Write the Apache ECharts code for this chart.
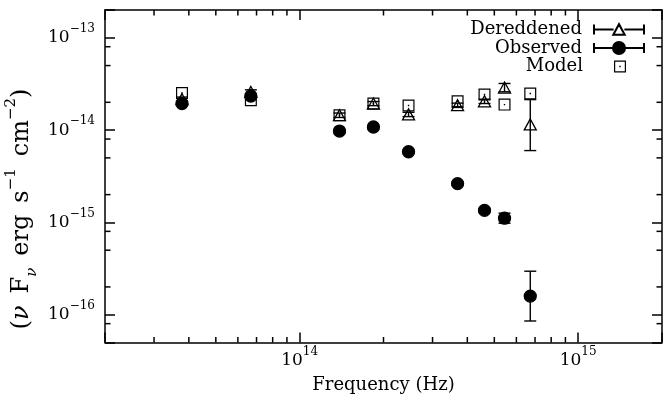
<!DOCTYPE html>
<html><head><meta charset="utf-8">
<script src="https://cdn.jsdelivr.net/npm/echarts@6/dist/echarts.min.js"></script>
<style>html,body{margin:0;padding:0;background:#fff}#c{width:665px;height:403px}</style>
</head><body><div id="c"></div>
<script>
// ---- data ----
const frequency = [3.78e13, 6.68e13, 1.39e14, 1.84e14, 2.46e14, 3.69e14, 4.61e14, 5.44e14, 6.73e14];
const dereddened   = [2.16e-14, 2.59e-14, 1.45e-14, 1.94e-14, 1.48e-14, 1.86e-14, 2.05e-14, 2.89e-14, 1.15e-14];
const dereddenedLo = [2.05e-14, 2.45e-14, 1.37e-14, 1.84e-14, 1.40e-14, 1.76e-14, 1.94e-14, 2.60e-14, 6.0e-15];
const dereddenedHi = [2.28e-14, 2.73e-14, 1.53e-14, 2.04e-14, 1.56e-14, 1.96e-14, 2.16e-14, 3.20e-14, 2.14e-14];
const observed   = [1.94e-14, 2.34e-14, 9.76e-15, 1.08e-14, 5.83e-15, 2.63e-15, 1.35e-15, 1.11e-15, 1.59e-16];
const observedLo = [1.86e-14, 2.24e-14, 9.3e-15, 1.03e-14, 5.55e-15, 2.5e-15, 1.28e-15, 0.98e-15, 8.55e-17];
const observedHi = [2.02e-14, 2.44e-14, 1.02e-14, 1.13e-14, 6.1e-15, 2.76e-15, 1.42e-15, 1.26e-15, 2.96e-16];
const model = [2.52e-14, 2.11e-14, 1.45e-14, 1.94e-14, 1.85e-14, 2.05e-14, 2.43e-14, 1.89e-14, 2.49e-14];
const seriesNames = ['Dereddened', 'Observed', 'Model'];
const xRange = [2e13, 2e15];
const yRange = [5e-17, 2e-13];
const xMinorTicks = [3e13, 4e13, 5e13, 6e13, 7e13, 8e13, 9e13, 2e14, 3e14, 4e14, 5e14, 6e14, 7e14, 8e14, 9e14];
const yMinorTicks = [8e-17, 2e-16, 5e-16, 8e-16, 2e-15, 5e-15, 8e-15, 2e-14, 5e-14, 8e-14];
const xAxisTitle = 'Frequency (Hz)';

// ---- styling ----
const FONT = 'DejaVu Serif';
const MINUS = '\u2212';
const SP = '\u2002';
function powLabel(v) {
  const l = Math.log10(v), e = Math.round(l);
  if (Math.abs(l - e) > 0.01) return '';
  return '{b|10}{s|' + String(e).replace('-', MINUS) + '}';
}
const labelRich = {
  b: { fontFamily: FONT, fontSize: 17, lineHeight: 30, color: '#000' },
  s: { fontFamily: FONT, fontSize: 12, lineHeight: 18, verticalAlign: 'top', color: '#000' }
};
const lineStyle = { color: '#000', width: 1.5 };
function axisBase(extra) {
  return Object.assign({
    type: 'log', logBase: 10,
    axisLine: { show: true, lineStyle },
    axisTick: { show: true, inside: true, length: 10, lineStyle },
    splitLine: { show: false }, minorTick: { show: false }, minorSplitLine: { show: false }
  }, extra);
}

const squareDot = 'path://M0,0H12V12H0Z M1.2,1.2V10.8H10.8V1.2Z M5.3,5.3H6.7V6.7H5.3Z';
const iconDered = 'path://M0,1V11 M0,6H19.6 M30.4,6H50 M50,1V11 M19.3,11.3L25,0.7L30.7,11.3Z';
const iconObs = 'path://M0,1V11 M0,6H50 M50,1V11 M19,6A6,6 0 1,1 31,6A6,6 0 1,1 19,6Z';
const iconModel = 'path://M0,6H0.01 M49.99,6H50 M19,0H31V12H19Z M20.2,1.2V10.8H29.8V1.2Z M24.3,5.3H25.7V6.7H24.3Z';

function minorTicksSeries(values, dir) {
  return {
    type: 'custom', silent: true, clip: false, z: 5,
    data: values.map(v => dir === 'x' ? [v, 1e-15] : [1e14, v]),
    renderItem(params, api) {
      const cs = params.coordSys;
      const p = api.coord([api.value(0), api.value(1)]);
      const st = { stroke: '#000', lineWidth: 1.5 };
      const L = 5.5;
      if (dir === 'x') {
        const b = cs.y + cs.height, t = cs.y;
        return { type: 'group', children: [
          { type: 'line', shape: { x1: p[0], y1: b, x2: p[0], y2: b - L }, style: st },
          { type: 'line', shape: { x1: p[0], y1: t, x2: p[0], y2: t + L }, style: st }
        ] };
      }
      const l = cs.x, r = cs.x + cs.width;
      return { type: 'group', children: [
        { type: 'line', shape: { x1: l, y1: p[1], x2: l + L, y2: p[1] }, style: st },
        { type: 'line', shape: { x1: r, y1: p[1], x2: r - L, y2: p[1] }, style: st }
      ] };
    }
  };
}
function errorBars(lo, hi, z) {
  return {
    type: 'custom', silent: true, z,
    data: frequency.map((f, i) => [f, lo[i], hi[i]]),
    encode: { x: 0, y: [1, 2] },
    renderItem(params, api) {
      const x = api.value(0);
      const a = api.coord([x, api.value(1)]);
      const b = api.coord([x, api.value(2)]);
      const w = 6, st = { stroke: '#000', lineWidth: 1.4 };
      return { type: 'group', children: [
        { type: 'line', shape: { x1: a[0], y1: a[1], x2: b[0], y2: b[1] }, style: st },
        { type: 'line', shape: { x1: a[0] - w, y1: a[1], x2: a[0] + w, y2: a[1] }, style: st },
        { type: 'line', shape: { x1: b[0] - w, y1: b[1], x2: b[0] + w, y2: b[1] }, style: st }
      ] };
    }
  };
}
function legendFor(name, icon, top) {
  return {
    data: [{ name, icon }], right: 20, top, padding: 0, orient: 'vertical', align: 'right',
    itemWidth: 50, itemHeight: 12, selectedMode: false,
    itemStyle: { opacity: 1 },
    textStyle: { fontFamily: FONT, fontSize: 18, color: '#000', padding: [0, 7, 0, 0] }
  };
}

const chart = echarts.init(document.getElementById('c'), null, { renderer: 'canvas' });
chart.setOption({
  animation: false,
  backgroundColor: '#fff',
  grid: { left: 105, top: 10, right: 1, bottom: 60.5, containLabel: false },
  xAxis: [
    axisBase({ position: 'bottom', min: xRange[0], max: xRange[1],
      axisLabel: { formatter: powLabel, rich: labelRich, margin: 3 },
      name: xAxisTitle, nameLocation: 'middle', nameGap: 34,
      nameTextStyle: { fontFamily: FONT, fontSize: 18, color: '#000' } }),
    axisBase({ position: 'top', min: xRange[0], max: xRange[1], axisLabel: { show: false } })
  ],
  yAxis: [
    axisBase({ position: 'left', min: yRange[0], max: yRange[1],
      axisLabel: { formatter: powLabel, rich: labelRich, margin: 10 } }),
    axisBase({ position: 'right', min: yRange[0], max: yRange[1], axisLabel: { show: false } })
  ],
  legend: [
    legendFor(seriesNames[0], iconDered, 20.5),
    legendFor(seriesNames[1], iconObs, 39),
    legendFor(seriesNames[2], iconModel, 57.5)
  ],
  graphic: [{
    type: 'text', x: 22, y: 209, rotation: Math.PI / 2, silent: true,
    style: {
      text: '{t|(}{i|ν}{t|' + SP + 'F}{sub|ν}{t|' + SP + 'erg' + SP + 's}{sup|' + MINUS + '1}{t|' + SP + 'cm}{sup|' + MINUS + '2}{t|)}',
      fontFamily: FONT, fontSize: 24, fill: '#000',
      align: 'center', verticalAlign: 'middle', textAlign: 'center', textVerticalAlign: 'middle',
      rich: {
        t: { fontFamily: FONT, fontSize: 24, lineHeight: 36, fill: '#000' },
        i: { fontFamily: FONT, fontSize: 24, fontStyle: 'italic', lineHeight: 36, fill: '#000' },
        sub: { fontFamily: FONT, fontSize: 15, fontStyle: 'italic', lineHeight: 28, verticalAlign: 'bottom', fill: '#000' },
        sup: { fontFamily: FONT, fontSize: 15, lineHeight: 20, verticalAlign: 'top', fill: '#000' }
      }
    }
  }],
  series: [
    { name: seriesNames[0], type: 'scatter', z: 2, data: frequency.map((f, i) => [f, dereddened[i]]),
      symbol: 'triangle', symbolSize: [12, 11],
      itemStyle: { color: 'rgba(0,0,0,0)', borderColor: '#000', borderWidth: 1.3, opacity: 1 }, emphasis: { disabled: true } },
    errorBars(dereddenedLo, dereddenedHi, 3),
    errorBars(observedLo, observedHi, 3),
    { name: seriesNames[1], type: 'scatter', z: 4, data: frequency.map((f, i) => [f, observed[i]]),
      symbol: 'circle', symbolSize: 12,
      itemStyle: { color: '#000', borderColor: '#000', borderWidth: 1.3, opacity: 1 }, emphasis: { disabled: true } },
    { name: seriesNames[2], type: 'scatter', z: 4, data: frequency.map((f, i) => [f, model[i]]),
      symbol: squareDot, symbolSize: 12,
      itemStyle: { color: '#000', borderWidth: 0, opacity: 1 }, emphasis: { disabled: true } },
    minorTicksSeries(xMinorTicks, 'x'),
    minorTicksSeries(yMinorTicks, 'y')
  ]
});
</script></body></html>
